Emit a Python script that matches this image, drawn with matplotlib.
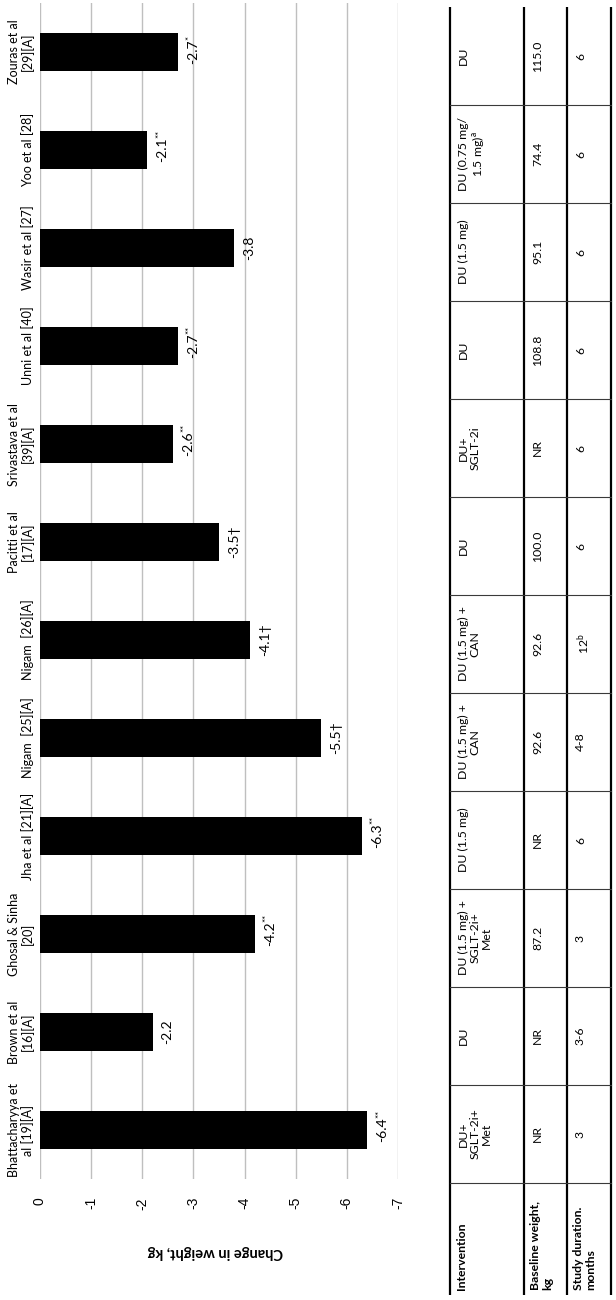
import matplotlib
matplotlib.use("Agg")
import matplotlib.pyplot as plt
import matplotlib.transforms as mtransforms

plt.rcParams['font.family'] = ['Lato', 'DejaVu Sans']
plt.rcParams['mathtext.fontset'] = 'custom'
plt.rcParams['mathtext.rm'] = 'Lato'
plt.rcParams['mathtext.it'] = 'Lato'
plt.rcParams['mathtext.bf'] = 'Lato:bold'
plt.rcParams['mathtext.default'] = 'regular'

# ---------------- data (bottom -> top in the picture) ----------------
studies = ["Bhattacharyya et\nal [19][A]", "Brown et al\n[16][A]", "Ghosal & Sinha\n[20]",
           "Jha et al [21][A]", "Nigam  [25][A]", "Nigam  [26][A]", "Pacitti et al\n[17][A]",
           "Srivastava et al\n[39][A]", "Unni et al [40]", "Wasir et al [27]", "Yoo et al [28]",
           "Zouras et al\n[29][A]"]
change = [-6.4, -2.2, -4.2, -6.3, -5.5, -4.1, -3.5, -2.6, -2.7, -3.8, -2.1, -2.7]
sig_sup = ["**", "", "**", "**", "", "", "", "**", "**", "", "**", "*"]
sig_inline = ["", "", "", "", "†", "†", "†", "", "", "", "", ""]

xticks = [0, -1, -2, -3, -4, -5, -6, -7]
xlabel = "Change in weight, kg"

table_headers = ["Intervention", "Baseline weight,\nkg", "Study duration.\nmonths"]
intervention = ["DU+\nSGLT-2i+\nMet", "DU", "DU (1.5 mg) +\nSGLT-2i+\nMet", "DU (1.5 mg)",
                "DU (1.5 mg) +\nCAN", "DU (1.5 mg) +\nCAN", "DU", "DU+\nSGLT-2i", "DU",
                "DU (1.5 mg)", "DU (0.75 mg/\n1.5 mg)$^{a}$", "DU"]
baseline = ["NR", "NR", "87.2", "NR", "92.6", "92.6", "100.0", "NR", "108.8", "95.1", "74.4", "115.0"]
duration = ["3", "3-6", "3", "6", "4-8", "12$^{b}$", "6", "6", "6", "6", "6", "6"]

# ---------------- figure ----------------
W, H = 616, 1300
fig = plt.figure(figsize=(W / 100, H / 100), dpi=100)
fig.patch.set_facecolor("white")

def fx(px):
    return px / W

def fy(py):
    return 1 - py / H

# bar axes (px: x 40..398, y 3..1179)
ax = fig.add_axes([fx(40), fy(1179), fx(398) - fx(40), fy(3) - fy(1179)])
n = len(studies)
ypos = list(range(n))
ax.barh(ypos, change, height=0.38, color="black", zorder=3)
ax.set_xlim(0, -7)
ax.set_ylim(-0.5, n - 0.5)
ax.set_xticks(xticks)
ax.set_xticklabels([str(t) for t in xticks], rotation=90, fontsize=10,
                   family=['Liberation Sans', 'DejaVu Sans'])
ax.tick_params(axis='x', length=0, pad=13)
ax.set_yticks([])
for s in ax.spines.values():
    s.set_visible(False)
ax.grid(axis='x', color="#BFBFBF", linewidth=1.0, zorder=0)
ax.set_axisbelow(True)

# category labels (left of the zero line)
blend = mtransforms.blended_transform_factory(fig.transFigure, ax.transData)
for i, name in enumerate(studies):
    ax.text(fx(34), i, name, transform=blend, rotation=90, ha='right', va='center',
            multialignment='center', fontsize=9, linespacing=1.1)

# value labels
off = mtransforms.offset_copy(ax.transData, fig=fig, x=9, y=0, units='dots')
for i, v in enumerate(change):
    lab = f"{v:.1f}" + sig_inline[i]
    t = ax.text(v, i, lab, transform=off, rotation=90, ha='left', va='center',
                fontsize=10)
    if sig_sup[i]:
        ax.annotate(sig_sup[i], xy=(0.0, 1.0), xycoords=t, rotation=90,
                    ha='left', va='bottom', fontsize=7,
                    xytext=(-1, 0), textcoords='offset points')

# axis title (upside down)
fig.text(fx(215), fy(1252), xlabel, rotation=180, ha='center', va='center',
         fontsize=10.5, fontweight='bold')

# ---------------- table ----------------
top_px, studies_bottom_px, bottom_px = 7, 1183, 1295
cell = (studies_bottom_px - top_px) / n
hdr_low = -0.5 - (bottom_px - studies_bottom_px) / cell
tax = fig.add_axes([fx(450), fy(bottom_px), fx(611) - fx(450), fy(top_px) - fy(bottom_px)])
tax.set_xlim(450, 611)
tax.set_ylim(hdr_low, n - 0.5)
tax.axis('off')

col_edges = [450, 524, 567, 611]
for x in col_edges:
    tax.plot([x, x], [hdr_low, n - 0.5], color="black", linewidth=1.6, clip_on=False,
             solid_capstyle='butt')
for k in range(n):
    yb = k - 0.5
    tax.plot([450, 611], [yb, yb], color="#3a3a3a", linewidth=0.8, clip_on=False)

columns = [intervention, baseline, duration]
for c, vals in enumerate(columns):
    for i, t in enumerate(vals):
        tax.text(col_edges[c] + 8, i, t, rotation=90, ha='left', va='center',
                 multialignment='center', fontsize=8.8, linespacing=1.05)

for c, h in enumerate(table_headers):
    tax.text(col_edges[c] + 6, hdr_low + 0.05, h, rotation=90, ha='left', va='bottom',
             multialignment='left', fontsize=8.8, fontweight='bold', linespacing=1.1)

fig.savefig("out.png", dpi=100, facecolor="white")
